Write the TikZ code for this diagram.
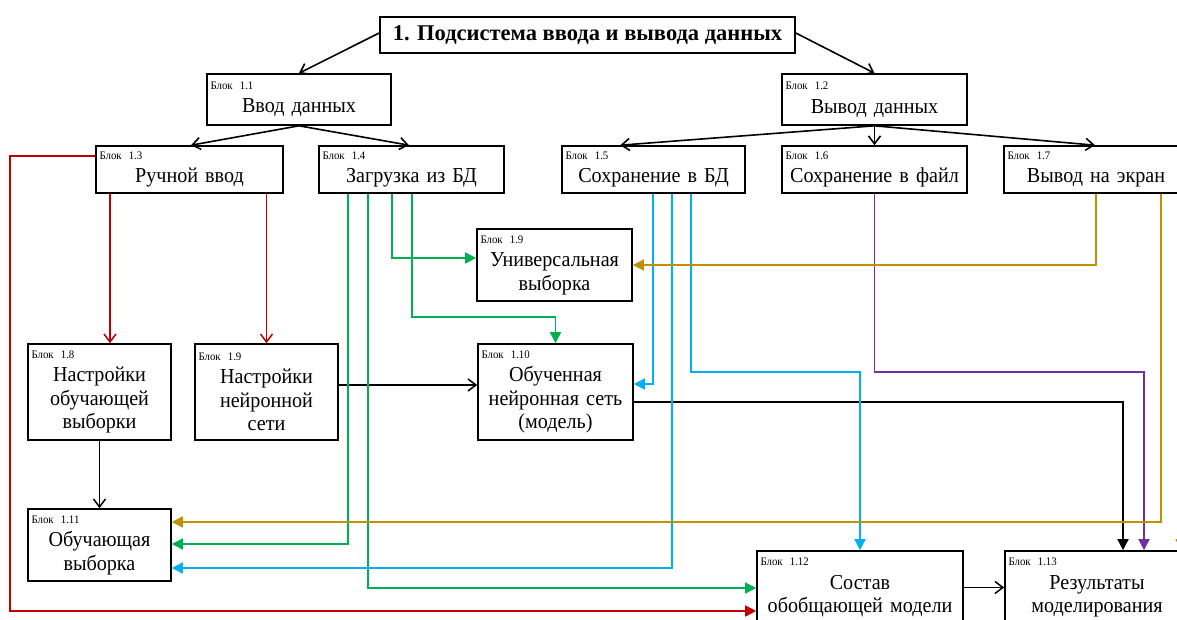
\documentclass[tikz,border=0pt]{standalone}
\usepackage{fontspec}
\setmainfont{Liberation Serif}
\newfontfamily\blokfont{Liberation Serif}[FakeStretch=0.945]
\usetikzlibrary{arrows.meta,calc}
\definecolor{lineRed}{HTML}{C00000}
\definecolor{lineGreen}{HTML}{00B050}
\definecolor{lineBlue}{HTML}{00B0F0}
\definecolor{linePurple}{HTML}{7030A0}
\definecolor{lineGold}{HTML}{BF9000}
\newcommand{\blok}[1]{\makebox[\linewidth][l]{\fontsize{11.5}{12}\selectfont Блок #1}}

\begin{document}
\begin{tikzpicture}
  [x=1pt,y=-1pt,
   blokN/.style={draw,line width=1.6pt,inner xsep=3.5pt,inner ysep=2pt,align=center,
                 font=\blokfont\fontsize{21.3}{23.5}\selectfont},
   titleN/.style={draw,line width=1.6pt,minimum width=415,minimum height=36,
                  font=\fontsize{22.5}{24}\selectfont\bfseries},
   treeL/.style={line width=1.6pt,-{Straight Barb[length=8pt,width=12pt]}},
   barbL/.style={line width=1.5pt,-{Straight Barb[length=8pt,width=12pt]}},
   triL/.style={line width=1.5pt,-{Triangle[length=11pt,width=11pt]}},
  ]
 \useasboundingbox (0,0) rectangle (1177,619);

 % blocks
 \node[titleN] (title) at (587.5,35) {1. Подсистема ввода и вывода данных};
 \node[blokN,text width=177,minimum height=51] (b11) at (299,99.5) {\blok{1.1}\\Ввод данных};
 \node[blokN,text width=178,minimum height=51] (b12) at (874.5,99.5) {\blok{1.2}\\Вывод данных};
 \node[blokN,text width=180,minimum height=47] (b13) at (189.5,169.5) {\blok{1.3}\\Ручной ввод};
 \node[blokN,text width=178,minimum height=47] (b14) at (411.5,169.5) {\blok{1.4}\\Загрузка из БД};
 \node[blokN,text width=176,minimum height=47] (b15) at (653.5,169.5) {\blok{1.5}\\Сохранение в БД};
 \node[blokN,text width=178,minimum height=47] (b16) at (874.5,169.5) {\blok{1.6}\\Сохранение в файл};
 \node[blokN,text width=177,minimum height=47] (b17) at (1096,169.5) {\blok{1.7}\\Вывод на экран};
 \node[blokN,text width=148,minimum height=72] (b19a) at (554.5,265) {\blok{1.9}\\Универсальная\\выборка};
 \node[blokN,text width=136,minimum height=96] (b18) at (99.5,392) {\blok{1.8}\\Настройки\\обучающей\\выборки};
 \node[blokN,text width=136,minimum height=96] (b19b) at (266.5,392) {\blok{1.9}\\Настройки\\нейронной\\сети};
 \node[blokN,text width=148,minimum height=96] (b110) at (555.5,392) {\blok{1.10}\\Обученная\\нейронная сеть\\(модель)};
 \node[blokN,text width=136,minimum height=72] (b111) at (99.5,545) {\blok{1.11}\\Обучающая\\выборка};
 \node[blokN,text width=199,minimum height=73] (b112) at (860,587.5) {\blok{1.12}\\Состав\\обобщающей модели};
 \node[blokN,text width=177,minimum height=73] (b113) at (1097,587.5) {\blok{1.13}\\Результаты\\моделирования};

 % tree
 \draw[treeL] ([yshift=2]title.west) -- (b11.north);
 \draw[treeL] ([yshift=2]title.east) -- (b12.north);
 \draw[treeL] (b11.south) -- ([xshift=1.5]b13.north);
 \draw[treeL] (b11.south) -- ([xshift=-2.5]b14.north);
 \draw[treeL] (b12.south) -- ([xshift=59]b15.north west);
 \draw[treeL] (b12.south) -- (b16.north);
 \draw[treeL] (b12.south) -- ([xshift=-1]b17.north);

 % manual input
 \draw[triL,lineRed] (b13.west |- 0,156) -| (10,611) -- (b112.west |- 0,611);
 \draw[barbL,lineRed] (b13.south -| 110,0) -- (b18.north -| 110,0);
 \draw[barbL,lineRed] (b13.south -| b19b.north) -- (b19b.north);

 % black links
 \draw[barbL] (b18.south) -- (b111.north);
 \draw[barbL] (b19b.east |- 0,385) -- (b110.west |- 0,385);
 \draw[triL] (b110.east |- 0,402) -| (b113.north -| 1123,0);
 \draw[barbL] (b112.east) -- (b113.west);

 % load from DB
 \draw[triL,lineGreen] (b14.south -| 348,0) |- (b111.east |- 0,544);
 \draw[triL,lineGreen] (b14.south -| 368,0) |- (b112.west |- 0,588);
 \draw[triL,lineGreen] (b14.south -| 392,0) |- (b19a.west |- 0,258);
 \draw[triL,lineGreen] (b14.south -| 412,0) |- (b110.north |- 0,317) -- (b110.north);

 % save to DB
 \draw[triL,lineBlue] (b15.south -| 653,0) |- (b110.east |- 0,384);
 \draw[triL,lineBlue] (b15.south -| 672,0) |- (b111.east |- 0,568);
 \draw[triL,lineBlue] (b15.south -| 691,0) |- (b112.north |- 0,372) -- (b112.north);

 % save to file
 \draw[triL,linePurple] (b16.south) |- (1144,372) -- (b113.north -| 1144,0);

 % screen output
 \draw[triL,lineGold] (b17.south) |- (b19a.east |- 0,265);
 \draw[triL,lineGold] (b17.south -| 1161,0) |- (b111.east |- 0,522);
 \draw[triL,lineGold] (b17.south -| 1181,0) -- (b113.north -| 1181,0);
\end{tikzpicture}
\end{document}
